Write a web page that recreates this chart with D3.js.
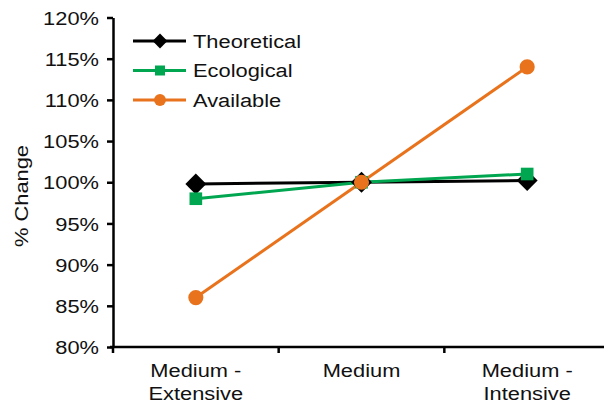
<!DOCTYPE html>
<html><head><meta charset="utf-8">
<script src="https://cdn.jsdelivr.net/npm/d3@7"></script>
<style>body{margin:0;background:#fff}svg{display:block}text{font-family:"Liberation Sans",Arial,sans-serif;fill:#111}</style>
</head><body><svg id="c" width="604" height="405"></svg>
<script>
const categories = [["Medium -","Extensive"],["Medium"],["Medium -","Intensive"]];
const yTicks = [0.80,0.85,0.90,0.95,1.00,1.05,1.10,1.15,1.20];
const theoretical = [0.998, 1.000, 1.002];
const ecological = [0.980, 1.000, 1.010];
const available = [0.860, 1.000, 1.140];
const seriesNames = ["Theoretical","Ecological","Available"];
const seriesColors = ["#000000","#00a650","#e8731c"];
const seriesShapes = [d3.symbolDiamond2, d3.symbolSquare, d3.symbolCircle];
const seriesData = [theoretical, ecological, available];

(function(){
const svg = d3.select("#c");
const FS = "19px", SX = 1.15;
const mLeft = 113, mRight = 610, mTop = 17.5, mBottom = 347;
const x = d3.scaleBand().domain(d3.range(categories.length)).range([mLeft, mRight]);
const y = d3.scaleLinear().domain([0.8, 1.2]).range([mBottom, mTop]);

const yAxis = d3.axisLeft(y).tickValues(yTicks).tickFormat(d3.format(".0%")).tickSize(6).tickSizeOuter(0);
const gy = svg.append("g").attr("transform", `translate(${mLeft},0)`).call(yAxis);
gy.select(".domain").attr("stroke","#000").attr("stroke-width",2.5);
gy.selectAll(".tick line").attr("stroke","#000").attr("stroke-width",2.5);
gy.selectAll(".tick text").attr("x",0).attr("dy","0.35em").attr("transform",`translate(-14,0) scale(${SX},1)`)
  .style("font-size",FS).style("font-family","'Liberation Sans',Arial,sans-serif").attr("fill","#111");

const gx = svg.append("g").attr("transform", `translate(0,${mBottom})`);
gx.append("line").attr("x1",mLeft-3).attr("x2",mRight).attr("stroke","#000").attr("stroke-width",2.5);
const tickXs = d3.range(categories.length+1).map(i => i < categories.length ? x(i) : x(categories.length-1)+x.bandwidth());
gx.selectAll(".tk").data(tickXs).join("line").attr("x1",d=>d).attr("x2",d=>d).attr("y1",0).attr("y2",6).attr("stroke","#000").attr("stroke-width",2.5);
categories.forEach((lab,i)=>{
  const t = gx.append("text").attr("text-anchor","middle").style("font-size",FS).attr("transform",`translate(${x(i)+x.bandwidth()/2},30) scale(${SX},1)`);
  lab.forEach((l,j)=>t.append("tspan").attr("x",0).attr("y",j*23).text(l));
});

svg.append("text").attr("transform",`translate(28,196) rotate(-90) scale(${SX},1)`).attr("text-anchor","middle").style("font-size",FS).text("% Change");

const line = d3.line().x((d,i)=>x(i)+x.bandwidth()/2).y(d=>y(d));
const sizes = [280, 160, 180];
seriesData.forEach((data,s)=>{
  svg.append("path").datum(data).attr("d",line).attr("fill","none").attr("stroke",seriesColors[s]).attr("stroke-width",3);
});
seriesData.forEach((data,s)=>{
  svg.selectAll(".m"+s).data(data).join("path")
    .attr("transform",(d,i)=>`translate(${x(i)+x.bandwidth()/2},${y(d)})`)
    .attr("d",d3.symbol().type(seriesShapes[s]).size(sizes[s])).attr("fill",seriesColors[s]);
});

const lg = svg.append("g");
seriesNames.forEach((n,s)=>{
  const yy = 41 + s*29.5;
  lg.append("line").attr("x1",133).attr("x2",186).attr("y1",yy).attr("y2",yy).attr("stroke",seriesColors[s]).attr("stroke-width",3);
  lg.append("path").attr("transform",`translate(160,${yy})`).attr("d",d3.symbol().type(seriesShapes[s]).size([140,100,110][s])).attr("fill",seriesColors[s]);
  lg.append("text").attr("transform",`translate(193,${yy}) scale(${SX},1)`).attr("dy","0.35em").style("font-size",FS).text(n);
});
})();
</script></body></html>
